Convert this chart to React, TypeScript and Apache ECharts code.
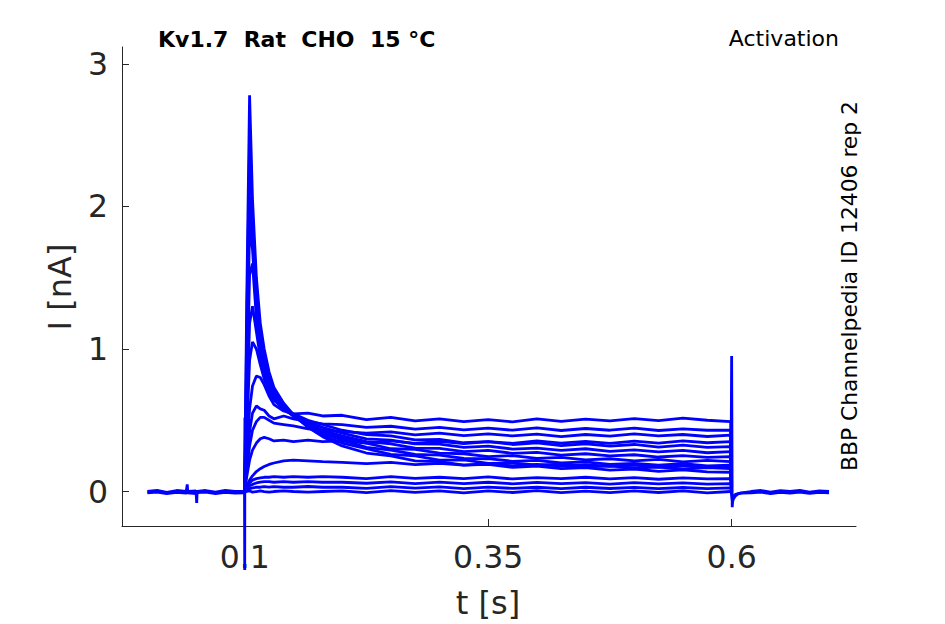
import { useEffect, useRef } from "react";
import * as echarts from "echarts";

// ---- data ----
const T_PULSE = [0.1, 0.102, 0.105, 0.108, 0.112, 0.116, 0.12, 0.125, 0.13, 0.14, 0.15, 0.165, 0.18, 0.2, 0.225, 0.25, 0.275, 0.3, 0.325, 0.35, 0.375, 0.4, 0.425, 0.45, 0.475, 0.5, 0.525, 0.55, 0.575, 0.599];

const I_01 = [0.02, 1.3, 2.78, 2.05, 1.5, 1.18, 1.0, 0.84, 0.73, 0.62, 0.54, 0.45, 0.385, 0.32, 0.27, 0.25, 0.215, 0.21, 0.185, 0.19, 0.17, 0.178, 0.16, 0.168, 0.15, 0.158, 0.142, 0.152, 0.138, 0.135];
const I_02 = [0.01, 1.1, 2.45, 1.92, 1.4, 1.1, 0.95, 0.8, 0.7, 0.6, 0.53, 0.455, 0.395, 0.34, 0.3, 0.26, 0.25, 0.22, 0.222, 0.198, 0.2, 0.185, 0.192, 0.172, 0.18, 0.165, 0.172, 0.158, 0.168, 0.16];
const I_03 = [0.01, 0.9, 2.07, 1.78, 1.32, 1.05, 0.92, 0.78, 0.68, 0.59, 0.53, 0.46, 0.41, 0.36, 0.31, 0.29, 0.26, 0.255, 0.232, 0.23, 0.212, 0.218, 0.2, 0.208, 0.19, 0.198, 0.185, 0.195, 0.18, 0.185];
const I_04 = [0.01, 0.78, 1.86, 1.7, 1.28, 1.02, 0.88, 0.76, 0.67, 0.585, 0.53, 0.47, 0.425, 0.375, 0.34, 0.3, 0.295, 0.27, 0.265, 0.245, 0.252, 0.232, 0.24, 0.222, 0.23, 0.215, 0.225, 0.208, 0.218, 0.21];
const I_05 = [0.01, 0.65, 1.52, 1.6, 1.22, 0.98, 0.86, 0.74, 0.66, 0.58, 0.53, 0.475, 0.43, 0.39, 0.35, 0.335, 0.305, 0.302, 0.28, 0.288, 0.268, 0.275, 0.255, 0.265, 0.25, 0.258, 0.242, 0.252, 0.24, 0.245];
const I_06 = [0.01, 0.5, 1.18, 1.3, 1.12, 0.94, 0.83, 0.72, 0.65, 0.575, 0.535, 0.485, 0.45, 0.41, 0.37, 0.36, 0.335, 0.332, 0.31, 0.318, 0.298, 0.305, 0.288, 0.3, 0.282, 0.292, 0.278, 0.288, 0.272, 0.28];
const I_07 = [0.01, 0.4, 0.92, 1.05, 1.0, 0.89, 0.79, 0.7, 0.64, 0.58, 0.545, 0.5, 0.47, 0.43, 0.4, 0.39, 0.362, 0.365, 0.342, 0.35, 0.33, 0.342, 0.322, 0.335, 0.318, 0.33, 0.312, 0.325, 0.31, 0.315];
const I_08 = [0.01, 0.25, 0.58, 0.74, 0.81, 0.8, 0.75, 0.67, 0.61, 0.565, 0.545, 0.55, 0.53, 0.535, 0.505, 0.52, 0.495, 0.51, 0.49, 0.505, 0.488, 0.51, 0.492, 0.508, 0.495, 0.512, 0.498, 0.515, 0.5, 0.49];
const I_09 = [0.01, 0.18, 0.42, 0.55, 0.6, 0.58, 0.57, 0.53, 0.51, 0.53, 0.51, 0.49, 0.475, 0.47, 0.45, 0.458, 0.438, 0.45, 0.432, 0.445, 0.43, 0.446, 0.428, 0.442, 0.43, 0.445, 0.428, 0.44, 0.43, 0.43];
const I_10 = [0.01, 0.14, 0.32, 0.43, 0.49, 0.52, 0.52, 0.5, 0.48, 0.47, 0.46, 0.44, 0.43, 0.42, 0.41, 0.418, 0.398, 0.41, 0.392, 0.405, 0.39, 0.402, 0.385, 0.4, 0.388, 0.404, 0.39, 0.4, 0.386, 0.395];
const I_11 = [0.01, 0.1, 0.22, 0.29, 0.34, 0.37, 0.38, 0.37, 0.355, 0.36, 0.35, 0.36, 0.35, 0.355, 0.34, 0.356, 0.338, 0.352, 0.336, 0.35, 0.338, 0.355, 0.34, 0.352, 0.338, 0.354, 0.34, 0.356, 0.342, 0.35];
const I_12 = [0.01, 0.04, 0.08, 0.11, 0.14, 0.16, 0.175, 0.19, 0.2, 0.215, 0.22, 0.215, 0.21, 0.205, 0.195, 0.205, 0.188, 0.198, 0.185, 0.195, 0.18, 0.19, 0.178, 0.188, 0.176, 0.186, 0.172, 0.182, 0.17, 0.175];
const I_13 = [0.0, 0.03, 0.06, 0.08, 0.09, 0.095, 0.1, 0.1, 0.105, 0.1, 0.105, 0.1, 0.105, 0.1, 0.09, 0.105, 0.092, 0.1, 0.09, 0.102, 0.088, 0.098, 0.09, 0.1, 0.088, 0.097, 0.086, 0.096, 0.088, 0.09];
const I_14 = [0.0, 0.02, 0.04, 0.05, 0.06, 0.065, 0.07, 0.07, 0.065, 0.07, 0.065, 0.07, 0.065, 0.065, 0.058, 0.068, 0.056, 0.066, 0.055, 0.065, 0.054, 0.064, 0.055, 0.062, 0.052, 0.062, 0.053, 0.06, 0.052, 0.055];
const I_15 = [0.0, 0.01, 0.02, 0.025, 0.03, 0.03, 0.035, 0.03, 0.035, 0.03, 0.03, 0.035, 0.03, 0.03, 0.022, 0.034, 0.024, 0.032, 0.02, 0.031, 0.022, 0.03, 0.02, 0.03, 0.021, 0.029, 0.02, 0.028, 0.02, 0.025];
const I_16 = [0.0, 0.0, 0.005, -0.005, 0.0, 0.005, 0.0, -0.005, 0.0, 0.005, 0.0, -0.005, 0.0, 0.004, -0.008, 0.006, -0.006, 0.005, -0.009, 0.004, -0.007, 0.006, -0.008, 0.003, -0.008, 0.005, -0.007, 0.004, -0.009, 0.0];

const PULSE_TRACES = [I_01, I_02, I_03, I_04, I_05, I_06, I_07, I_08, I_09, I_10, I_11, I_12, I_13, I_14, I_15, I_16];

// holding baseline before the step
const BASE_T = [0, 0.01, 0.02, 0.03, 0.04, 0.041, 0.0415, 0.05, 0.0507, 0.0512, 0.06, 0.07, 0.08, 0.09, 0.0998];
const BASE_A = [0.0, 0.008, -0.006, 0.007, 0.0, 0.05, 0.0, 0.004, -0.08, 0.0, 0.007, -0.005, 0.008, 0.0, 0.0];
const BASE_B = [-0.01, -0.004, -0.014, -0.006, -0.012, -0.005, -0.01, -0.014, -0.008, -0.01, -0.004, -0.014, -0.006, -0.012, -0.01];

// capacitive transient at step onset
const ON_T = [0.0998, 0.1, 0.1002, 0.1005];
const ON_I = [0.0, -0.55, 0.52, 0.02];

// step offset and tail
const OFF_T = [0.5995, 0.6, 0.6006, 0.601, 0.602, 0.604, 0.607, 0.61, 0.62, 0.63, 0.64, 0.65, 0.66, 0.67, 0.68, 0.69, 0.7];
const OFF_A = [0.3, 0.95, -0.11, -0.07, -0.05, -0.03, -0.015, -0.01, 0.0, 0.007, -0.004, 0.006, 0.0, 0.008, -0.004, 0.005, 0.0];
const OFF_B = [0.0, 0.0, -0.06, -0.04, -0.03, -0.02, -0.014, -0.012, -0.01, -0.004, -0.014, -0.006, -0.012, -0.004, -0.013, -0.006, -0.01];

const X_TICKS = [0.1, 0.35, 0.6];
const Y_TICKS = [0, 1, 2, 3];

const TITLE = "Kv1.7  Rat  CHO  15 °C";
const SUBTITLE = "Activation";
const SIDE_TEXT = "BBP Channelpedia ID 12406 rep 2";
const X_NAME = "t [s]";
const Y_NAME = "I [nA]";

const BLUE = "#0000ff";
const AXIS = "#262626";
const FONT = "DejaVu Sans";

const zip = (t: number[], v: number[]) => t.map((x, i) => [x, v[i]]);

export default function App() {
  const ref = useRef<HTMLDivElement>(null);
  useEffect(() => {
    const chart = echarts.init(ref.current!, null, { renderer: "svg" });
    const line = (data: number[][], extra: any = {}) => ({
      type: "line",
      data,
      showSymbol: false,
      symbol: "none",
      silent: true,
      lineStyle: { color: BLUE, width: 2.8 },
      itemStyle: { color: BLUE },
      ...extra,
    });
    const series: any[] = [
      line(zip(BASE_T, BASE_A)),
      line(zip(BASE_T, BASE_B)),
      ...PULSE_TRACES.map((v) => line([...zip(T_PULSE, v), [0.6, 0]])),
      line(zip(ON_T, ON_I), { clip: false }),
      line(zip(OFF_T, OFF_A)),
      line(zip(OFF_T, OFF_B)),
    ];
    chart.setOption({
      animation: false,
      textStyle: { fontFamily: FONT },
      grid: { left: 122, right: 89, top: 47, bottom: 98 },
      xAxis: {
        type: "value",
        min: -0.026,
        max: 0.7277,
        axisLine: { onZero: false, lineStyle: { color: AXIS, width: 1 } },
        axisTick: { inside: true, length: 7, lineStyle: { color: AXIS }, customValues: X_TICKS },
        axisLabel: {
          customValues: X_TICKS,
          color: AXIS,
          fontSize: 31.5,
          fontFamily: FONT,
          margin: 15,
          formatter: (v: number) => String(v),
        },
        splitLine: { show: false },
      },
      yAxis: {
        type: "value",
        min: -0.242,
        max: 3.119,
        axisLine: { show: true, onZero: false, lineStyle: { color: AXIS, width: 1 } },
        axisTick: { show: true, inside: true, length: 7, lineStyle: { color: AXIS }, customValues: Y_TICKS },
        axisLabel: {
          customValues: Y_TICKS,
          color: AXIS,
          fontSize: 31.5,
          fontFamily: FONT,
          margin: 14,
          formatter: (v: number) => String(v),
        },
        splitLine: { show: false },
      },
      graphic: [
        {
          type: "text",
          left: 158,
          top: 28,
          style: { text: TITLE, font: `bold 22px "${FONT}"`, fill: "#000" },
        },
        {
          type: "text",
          right: 945 - 839,
          top: 27,
          style: { text: SUBTITLE, font: `22px "${FONT}"`, fill: "#000" },
        },
        {
          type: "text",
          x: 849,
          y: 286,
          rotation: Math.PI / 2,
          style: { text: SIDE_TEXT, font: `21.8px "${FONT}"`, fill: "#000", align: "center", verticalAlign: "middle" },
        },
        {
          type: "text",
          x: 488,
          y: 603,
          style: { text: X_NAME, font: `32px "${FONT}"`, fill: AXIS, align: "center", verticalAlign: "middle" },
        },
        {
          type: "text",
          x: 60,
          y: 287,
          rotation: Math.PI / 2,
          style: { text: Y_NAME, font: `32px "${FONT}"`, fill: AXIS, align: "center", verticalAlign: "middle" },
        },
      ],
      series,
    });
    return () => chart.dispose();
  }, []);
  return <div ref={ref} style={{ position: "fixed", left: 0, top: 0, width: 945, height: 624, background: "#fff" }} />;
}
